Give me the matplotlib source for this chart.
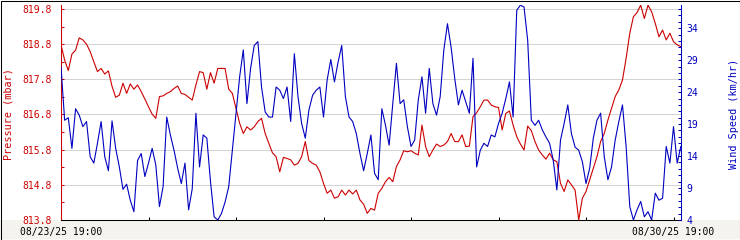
import numpy as np
import matplotlib
matplotlib.use("Agg")
import matplotlib.pyplot as plt
from matplotlib.patches import Rectangle
from matplotlib.ticker import MultipleLocator, FixedLocator, FixedFormatter

# hourly readings, starting 08/23/25 19:00
pressure = [
    818.78, 818.35, 818.05, 818.52, 818.63, 818.98, 818.92, 818.80, 818.59, 818.30,
    818.02, 818.11, 817.95, 818.04, 817.60, 817.29, 817.35, 817.69, 817.40, 817.67,
    817.52, 817.64, 817.45, 817.24, 817.02, 816.81, 816.69, 817.31, 817.33, 817.40,
    817.45, 817.54, 817.61, 817.40, 817.37, 817.29, 817.21, 817.64, 818.02, 817.99,
    817.52, 817.99, 817.69, 818.11, 818.11, 818.11, 817.52, 817.40, 816.98, 816.55,
    816.26, 816.45, 816.36, 816.45, 816.60, 816.69, 816.26, 815.98, 815.71, 815.60,
    815.17, 815.58, 815.55, 815.51, 815.36, 815.41, 815.60, 816.03, 815.49, 815.41,
    815.36, 815.17, 814.84, 814.56, 814.65, 814.42, 814.46, 814.65, 814.51, 814.65,
    814.54, 814.65, 814.37, 814.25, 813.99, 814.13, 814.08, 814.56, 814.70, 814.89,
    815.01, 814.89, 815.32, 815.51, 815.77, 815.74, 815.77, 815.70, 815.65, 816.50,
    815.89, 815.60, 815.79, 815.96, 815.89, 815.93, 816.03, 816.26, 816.03, 816.03,
    816.22, 815.89, 815.90, 816.74, 816.85, 817.02, 817.21, 817.21, 817.07, 817.02,
    817.00, 816.36, 816.83, 816.90, 816.50, 816.17, 815.96, 815.79, 816.47, 816.34,
    816.03, 815.79, 815.65, 815.53, 815.70, 815.51, 815.46, 814.84, 814.61, 814.94,
    814.80, 814.65, 813.80, 814.42, 814.61, 814.94, 815.27, 815.60, 816.03, 816.26,
    816.64, 816.98, 817.31, 817.50, 817.78, 818.40, 819.11, 819.58, 819.70, 819.91,
    819.53, 819.91, 819.72, 819.39, 819.01, 819.20, 818.92, 819.11, 818.87, 818.78,
    818.73,
]

wind = [
    28.0, 19.6, 20.0, 15.2, 21.4, 20.4, 18.6, 19.4, 13.9, 12.9,
    16.0, 19.4, 13.9, 11.7, 19.5, 15.2, 12.3, 8.8, 9.6, 7.1,
    5.3, 13.3, 14.4, 10.8, 12.9, 15.2, 12.6, 6.1, 9.2, 20.1,
    17.3, 14.9, 12.1, 9.7, 12.9, 5.6, 8.9, 20.7, 12.3, 17.3,
    16.8, 10.0, 4.5, 4.0, 5.0, 6.8, 9.2, 14.9, 20.7, 26.4,
    30.6, 22.2, 27.7, 31.3, 31.9, 24.8, 20.9, 20.1, 20.1, 24.8,
    24.3, 23.0, 24.8, 19.4, 30.0, 23.3, 19.1, 16.8, 21.2, 23.5,
    24.3, 24.8, 20.1, 25.9, 29.1, 25.6, 28.7, 31.3, 23.3, 20.1,
    19.4, 17.5, 14.4, 11.7, 14.4, 17.3, 11.3, 10.3, 21.4, 18.8,
    15.7, 22.2, 28.5, 22.2, 22.8, 18.6, 15.5, 16.5, 22.8, 26.4,
    20.7, 27.7, 22.2, 20.4, 23.3, 30.6, 34.7, 31.0, 26.1, 22.0,
    24.3, 22.5, 20.7, 29.3, 12.3, 14.9, 16.0, 15.5, 17.3, 17.0,
    19.1, 20.7, 23.0, 25.6, 20.1, 36.8, 37.6, 37.3, 32.1, 19.6,
    18.8, 19.6, 18.1, 17.0, 16.0, 13.4, 8.7, 16.5, 19.1, 22.0,
    17.5, 15.4, 14.9, 13.1, 9.7, 12.1, 16.8, 19.6, 20.7, 13.9,
    10.3, 12.3, 16.5, 19.4, 22.0, 15.5, 6.1, 4.0, 5.6, 6.9,
    4.5, 5.3, 4.0, 8.2, 7.1, 7.4, 15.5, 12.9, 18.6, 12.9,
    15.5,
]

hours = np.arange(len(pressure))

pressure_ticks = [813.8, 814.8, 815.8, 816.8, 817.8, 818.8, 819.8]
wind_ticks = [4, 9, 14, 19, 24, 29, 34]
date_labels = ["08/23/25 19:00", "08/30/25 19:00"]

RED = "#cc0000"
BLUE = "#0000c0"
FONT = "DejaVu Sans Mono"
W, H = 740, 240

fig = plt.figure(figsize=(W / 100, H / 100), dpi=100, facecolor="white")

# light strip under the plot (behind everything) and a thin frame round the picture
fig.patches.append(Rectangle((0, 1 / H), 1, 19 / H, transform=fig.transFigure,
                             facecolor="#f5f3ee", edgecolor="none", zorder=-5))
fig.patches.append(Rectangle((0.5 / W, 0.5 / H), 739 / W, 239 / H, transform=fig.transFigure,
                             fill=False, edgecolor="black", linewidth=0.75, zorder=10))

# plot box: x 61..681, y 5..220 (image pixels)
ax = fig.add_axes([61 / W, 20 / H, 620 / W, 215 / H])
ax.set_facecolor("white")
ax2 = ax.twinx()

ax.plot(hours, pressure, color=RED, linewidth=0.8, zorder=3)
ax2.plot(hours, wind, color=BLUE, linewidth=0.8, zorder=3)

ax.set_xlim(0, 170.05)
ax.set_ylim(813.8, 819.8 + 4 / 35.17)
ax2.set_ylim(4, 37 + 4 / 6.4)

# horizontal grid on pressure levels
for level in pressure_ticks:
    ax.axhline(level, color="#d4d4d4", linewidth=0.75, zorder=1)

# spines
for a in (ax, ax2):
    a.spines["top"].set_visible(False)
ax.spines["left"].set_color(RED)
ax.spines["right"].set_visible(False)
ax.spines["bottom"].set_color("black")
ax2.spines["left"].set_visible(False)
ax2.spines["bottom"].set_visible(False)
ax2.spines["right"].set_color(BLUE)
for s in ("left", "bottom"):
    ax.spines[s].set_linewidth(0.75)
ax2.spines["right"].set_linewidth(0.75)

# x ticks every 24 h, only ends labelled
ax.xaxis.set_major_locator(FixedLocator([0, 168]))
ax.xaxis.set_major_formatter(FixedFormatter(date_labels))
ax.xaxis.set_minor_locator(MultipleLocator(24))
ax.tick_params(axis="x", which="both", direction="in", length=2.2, width=0.75,
               color="black", labelsize=7, pad=5)

# pressure axis
ax.yaxis.set_major_locator(FixedLocator(pressure_ticks))
ax.yaxis.set_major_formatter(FixedFormatter([f"{v:.1f}" for v in pressure_ticks]))
ax.yaxis.set_minor_locator(FixedLocator([v + 0.5 for v in pressure_ticks[:-1]]))
ax.tick_params(axis="y", which="both", direction="in", length=2.2, width=0.75,
               color=RED, labelcolor=RED, labelsize=7, pad=6.5)

# wind axis
ax2.yaxis.set_major_locator(FixedLocator(wind_ticks))
ax2.yaxis.set_major_formatter(FixedFormatter([str(v) for v in wind_ticks]))
ax2.yaxis.set_minor_locator(MultipleLocator(1))
ax2.tick_params(axis="y", which="both", direction="in", length=2.2, width=0.75,
                color=BLUE, labelcolor=BLUE, labelsize=7, pad=4)

for lab in ax.get_xticklabels() + ax.get_yticklabels() + ax2.get_yticklabels():
    lab.set_family(FONT)

fig.text(9 / W, 1 - 114 / H, "Pressure (mbar)", rotation=90, ha="center", va="center",
         color=RED, fontsize=7.3, family=FONT)
fig.text(734 / W, 1 - 114 / H, "Wind Speed (km/hr)", rotation=90, ha="center", va="center",
         color=BLUE, fontsize=7.3, family=FONT)

fig.savefig("out.png", dpi=100, facecolor=fig.get_facecolor())
